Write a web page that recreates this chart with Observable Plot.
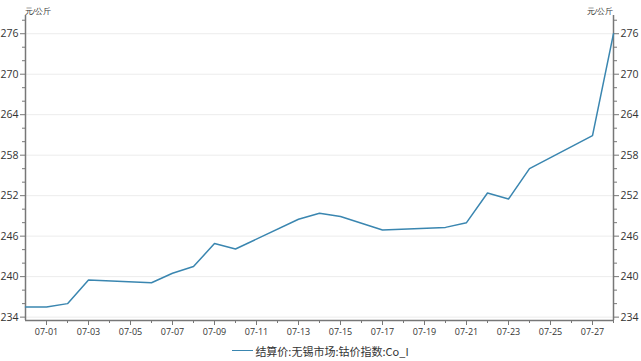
<!DOCTYPE html>
<html>
<head>
<meta charset="utf-8">
<script src="https://cdn.jsdelivr.net/npm/d3@7"></script>
<script src="https://cdn.jsdelivr.net/npm/@observablehq/plot@0.6"></script>
<style>
  html, body { margin: 0; padding: 0; background: #fff; }
  #chart { width: 641px; }
  .legend { display: flex; justify-content: center; align-items: center; height: 21px;
    font-family: "Noto Sans CJK SC", "Noto Sans", sans-serif; font-size: 11px; color: #333; }
  .legend .swatch { display: inline-block; width: 21px; height: 0; border-top: 1.6px solid #3a86b0; margin-right: 2px; }
</style>
</head>
<body>
<div id="chart"></div>
<script>
const days = ["06-30","07-01","07-02","07-03","07-06","07-07","07-08","07-09","07-10",
  "07-13","07-14","07-15","07-16","07-17","07-20","07-21","07-22","07-23","07-24","07-27","07-28"];
const prices = [235.5,235.5,236.0,239.5,239.1,240.5,241.5,244.9,244.1,
  248.5,249.4,248.9,247.9,246.9,247.3,248.0,252.4,251.5,256.0,260.9,276.0];
const yTicks = [234,240,246,252,258,264,270,276];
const yMinorTicks = [236,238,242,244,248,250,254,256,260,262,266,268,272,274,278];
const xTickDays = ["07-01","07-03","07-05","07-07","07-09","07-11","07-13","07-15","07-17","07-19","07-21","07-23","07-25","07-27"];
const xMinorDays = ["07-02","07-04","07-06","07-08","07-10","07-12","07-14","07-16","07-18","07-20","07-22","07-24","07-26","07-28"];
const xDomainDays = ["06-30","07-28"];
const yDomain = [233.5, 278.7];
const unitLabel = "元/公斤";
const seriesName = "结算价:无锡市场:钴价指数:Co_I";

const year = "2020";
const parse = s => new Date(`${year}-${s}T00:00:00Z`);
const data = days.map((d, i) => ({date: parse(d), value: prices[i]}));
const xDomain = xDomainDays.map(parse);
const fmt = d3.utcFormat("%m-%d");
const blank = () => "";
const axisColor = "#777";
const font = "'Open Sans', 'Noto Sans', sans-serif";

const plot = Plot.plot({
  width: 641,
  height: 340,
  marginLeft: 25,
  marginRight: 28,
  marginTop: 15,
  marginBottom: 20,
  style: {fontFamily: font, fontSize: "10px", color: "#333", background: "#fff"},
  x: {type: "utc", domain: xDomain},
  y: {domain: yDomain},
  marks: [
    Plot.gridY(yTicks, {stroke: "#ececec", strokeOpacity: 1}),
    Plot.axisY(yTicks, {anchor: "left", tickSize: 5, tickPadding: 2, stroke: axisColor, fontSize: 10.5, label: null}),
    Plot.axisY(yMinorTicks, {anchor: "left", tickSize: 3, tickFormat: blank, stroke: axisColor, label: null}),
    Plot.axisY(yTicks, {anchor: "right", tickSize: 5, tickPadding: 2, stroke: axisColor, fontSize: 10.5, label: null}),
    Plot.axisY(yMinorTicks, {anchor: "right", tickSize: 3, tickFormat: blank, stroke: axisColor, label: null}),
    Plot.axisX(xTickDays.map(parse), {anchor: "bottom", tickSize: 5, tickPadding: 3, tickFormat: fmt, stroke: axisColor, fontSize: 9, label: null}),
    Plot.axisX(xMinorDays.map(parse), {anchor: "bottom", tickSize: 3, tickFormat: blank, stroke: axisColor, label: null}),
    Plot.ruleX([xDomain[0]], {stroke: axisColor, strokeWidth: 1.5}),
    Plot.ruleX([xDomain[1]], {stroke: axisColor, strokeWidth: 1.5}),
    Plot.ruleY([yDomain[0]], {stroke: axisColor, strokeWidth: 1.5}),
    Plot.line(data, {x: "date", y: "value", stroke: "#3a86b0", strokeWidth: 1.5}),
    Plot.text([unitLabel], {frameAnchor: "top-left", textAnchor: "start", lineAnchor: "bottom", dy: -2, dx: -1, fontSize: 8, fill: "#333"}),
    Plot.text([unitLabel], {frameAnchor: "top-right", textAnchor: "end", lineAnchor: "bottom", dy: -2, dx: 0, fontSize: 8, fill: "#333"})
  ]
});
document.getElementById("chart").appendChild(plot);
const legend = document.createElement("div");
legend.className = "legend";
legend.innerHTML = `<span class="swatch"></span><span>${seriesName}</span>`;
document.getElementById("chart").appendChild(legend);
</script>
</body>
</html>
